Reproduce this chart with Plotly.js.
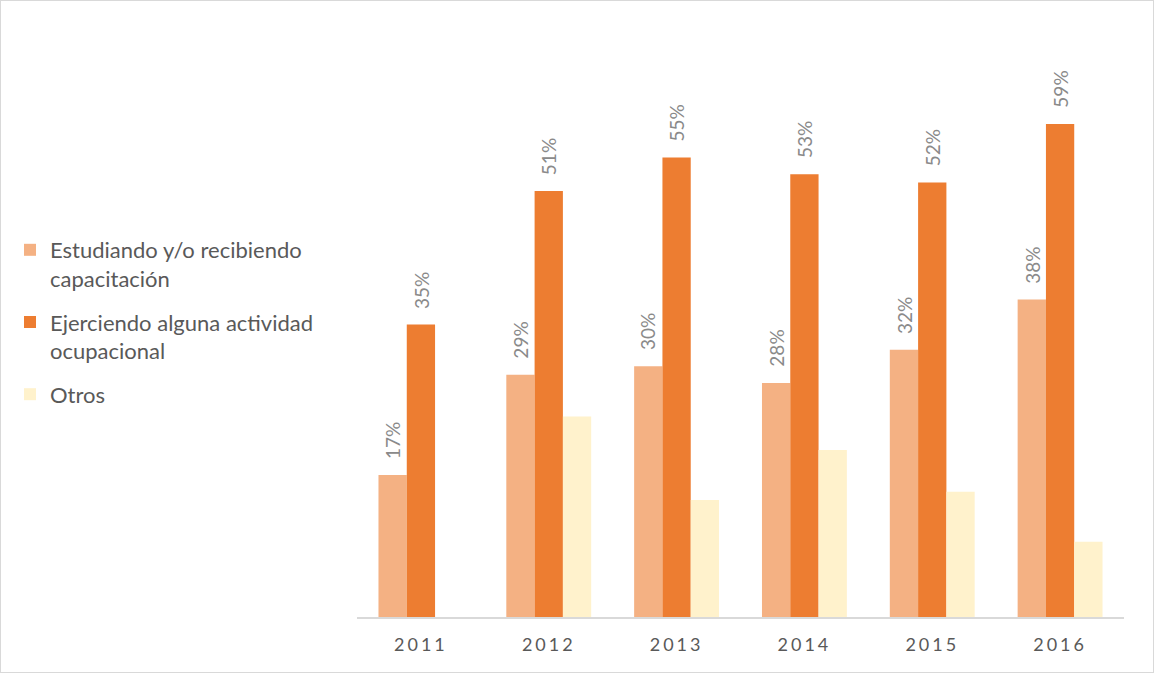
<!DOCTYPE html>
<html>
<head>
<meta charset="utf-8">
<script src="https://cdn.plot.ly/plotly-3.0.1.min.js"></script>
<style>
  html, body { margin: 0; padding: 0; background: #fff; }
  #wrap { position: relative; width: 1154px; height: 673px; }
  #chart { width: 1154px; height: 673px; }
  #frame { position: absolute; left: 0; top: 0; width: 1154px; height: 673px; box-sizing: border-box; border: 1px solid #d9d9d9; pointer-events: none; }
  .xtick text { letter-spacing: 3px; }
</style>
</head>
<body>
<div id="wrap"><div id="chart"></div><div id="frame"></div></div>
<script>
const years = ['2011', '2012', '2013', '2014', '2015', '2016'];
const seriesNames = ['Estudiando y/o recibiendo<br>capacitación', 'Ejerciendo alguna actividad<br>ocupacional', 'Otros'];
const estudiando = [17, 29, 30, 28, 32, 38];
const ejerciendo = [35, 51, 55, 53, 52, 59];
const otros = [null, 24, 14, 20, 15, 9];

const colors = ['#F4B183', '#ED7D31', '#FFF2CC'];
const W = 1154, H = 673;
const margin = { l: 356, r: 30, t: 30, b: 56 };
const bargap = 0.336;
const plotW = W - margin.l - margin.r;
const barPx = plotW / years.length * (1 - bargap) / 3;

const values = [estudiando, ejerciendo, otros];
const traces = values.map((v, k) => ({
  type: 'bar',
  name: seriesNames[k],
  legendgroup: 'g' + k,
  x: years,
  y: v,
  marker: { color: colors[k], line: { width: 0 } },
  hoverinfo: 'x+y'
}));

const annotations = [];
[estudiando, ejerciendo].forEach((v, k) => {
  v.forEach((val, i) => {
    if (val == null) return;
    annotations.push({
      x: i, y: val, xref: 'x', yref: 'y',
      text: val + '%', showarrow: false, textangle: -90,
      xanchor: 'center', yanchor: 'bottom',
      xshift: (k - 1) * barPx, yshift: 14,
      font: { family: 'Lato, sans-serif', size: 19, color: '#8a8a8a' }
    });
  });
});

const layout = {
  width: W, height: H,
  margin: margin,
  paper_bgcolor: '#fff', plot_bgcolor: '#fff',
  barmode: 'group', bargap: bargap, bargroupgap: 0,
  showlegend: true,
  legend: {
    x: (10 - margin.l) / plotW, xanchor: 'left',
    y: (617 - 229) / (617 - margin.t), yanchor: 'top',
    valign: 'top',
    tracegroupgap: 12,
    font: { family: 'Lato, sans-serif', size: 22, color: '#595959' },
    bgcolor: 'rgba(0,0,0,0)'
  },
  xaxis: {
    type: 'category',
    categoryarray: years, categoryorder: 'array',
    range: [-0.5, years.length - 0.5], autorange: false,
    showline: true, linecolor: '#d9d9d9', linewidth: 1.5,
    ticks: '', showgrid: false, zeroline: false,
    tickfont: { family: 'Lato, sans-serif', size: 18, color: '#595959' },
    ticklabelstandoff: 11
  },
  yaxis: {
    range: [0, 70.26], autorange: false, visible: false, showgrid: false, zeroline: false
  },
  annotations: annotations
};

Plotly.newPlot('chart', traces, layout, { displayModeBar: false, staticPlot: true });
</script>
</body>
</html>
